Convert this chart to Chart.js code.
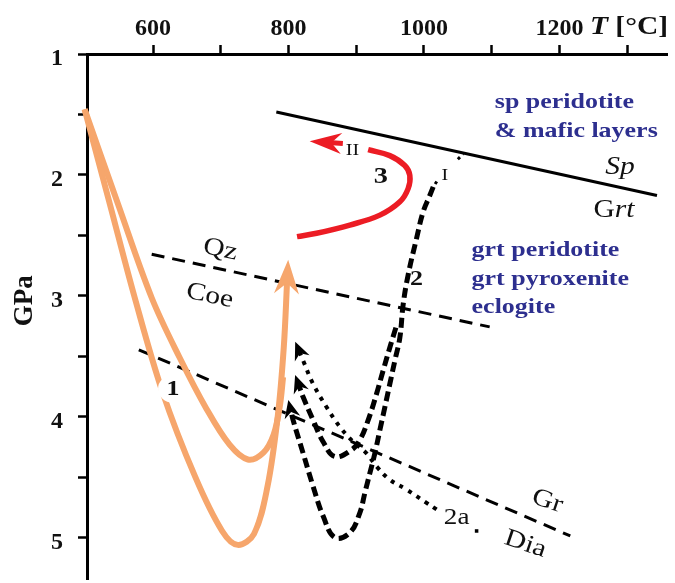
<!DOCTYPE html>
<html>
<head>
<meta charset="utf-8">
<script src="https://cdn.jsdelivr.net/npm/chart.js@4/dist/chart.umd.min.js"></script>
<style>
  html, body { margin: 0; padding: 0; background: #fff; overflow: hidden; }
  #wrap { width: 675px; height: 583px; position: relative; }
</style>
</head>
<body>
<div id="wrap"><canvas id="c"></canvas></div>
<script>
// ---------------- DATA (T in °C, P in GPa) ----------------
const xTicks = [600, 700, 800, 900, 1000, 1100, 1200, 1300];
const xTickLabels = ['600', '', '800', '', '1000', '', '1200', ''];
const yTicks = [1, 1.5, 2, 2.5, 3, 3.5, 4, 4.5, 5];
const yTickLabels = ['1', '', '2', '', '3', '', '4', '', '5'];

// phase boundaries
const spGrtT = [782, 1344];
const spGrtP = [1.48, 2.17];
const qzCoeT = [598, 1097];
const qzCoeP = [2.655, 3.256];
const grDiaT = [579, 1216];
const grDiaP = [3.445, 4.984];

// path 1 (orange)
const path1OuterT = [499, 536, 573, 614, 662, 702, 725, 749, 769, 784, 793, 798];
const path1OuterP = [1.457, 2.236, 3.015, 3.795, 4.492, 4.943, 5.058, 4.968, 4.575, 4.001, 3.426, 2.87];
const path1InnerT = [499, 548, 598, 639, 679, 713, 740, 763, 778, 787, 792];
const path1InnerP = [1.457, 2.236, 3.015, 3.507, 3.934, 4.230, 4.352, 4.295, 4.147, 3.918, 3.672];

// path 3 (red)
const path3T = [812.6, 841.4, 890.5, 934.9, 964.4, 976.6, 979.1, 971.7, 949.6, 917.6];
const path3P = [2.510, 2.482, 2.414, 2.332, 2.222, 2.113, 2.004, 1.922, 1.840, 1.791];
const path3ArrowT = [880.2, 859.5];
const path3ArrowP = [1.740, 1.732];

// path 2 (black dashed)
const path2T = [1013.6, 1008.7, 998.8, 989.1, 976.7, 969.3, 964.4, 957.0, 949.6, 942.3, 934.9, 927.5, 920.1, 912.7, 905.3, 890.6, 868.4, 851.1, 836.3, 821.6, 806.8, 803.4];
const path2P = [2.099, 2.168, 2.304, 2.523, 2.824, 3.070, 3.344, 3.535, 3.727, 3.918, 4.109, 4.301, 4.465, 4.629, 4.793, 4.957, 4.998, 4.820, 4.574, 4.301, 4.027, 3.947];
const path2InnerT = [958.5, 949.6, 939.7, 930.0, 917.6, 905.3, 893.0, 868.4, 851.1, 836.3, 821.6, 815.2];
const path2InnerP = [3.262, 3.426, 3.617, 3.809, 4.027, 4.191, 4.273, 4.328, 4.205, 4.027, 3.836, 3.737];
const path2TopT = [1016.5, 1021, 1035, 1050, 1058];
const path2TopP = [2.075, 2.035, null, 1.870, 1.826];

// path 2a (black dotted)
const path2aT = [1018.6, 1003.8, 974.3, 949.6, 930.0, 915.2, 895.4, 875.8, 856.1, 836.3, 821.6, 816.1];
const path2aP = [4.765, 4.711, 4.601, 4.519, 4.410, 4.301, 4.205, 4.082, 3.918, 3.727, 3.535, 3.462];
const path2aEndT = [1077.7];
const path2aEndP = [4.943];

// axis title anchors (data units)
const axisTitleT = 1245;
const gpaTitleP = 3.04;

// ---------------- STYLE ----------------
const ORANGE = '#F6A66C';
const RED = '#EC1C24';
const BLUE = '#2D2F8F';
const SERIF = "'Liberation Serif', 'Times New Roman', serif";
const HSCALE = 1.18;

function pts(T, P) { return T.map((t, i) => ({ x: t, y: P[i] })); }

const labelItems = [
  { parts: [['sp peridotite', 'bold']], x: 1104.6, y: 1.402, size: 22, color: BLUE, align: 'left' },
  { parts: [['& mafic layers', 'bold']], x: 1104.6, y: 1.635, size: 22, color: BLUE, align: 'left' },
  { parts: [['grt peridotite', 'bold']], x: 1070.3, y: 2.619, size: 22, color: BLUE, align: 'left' },
  { parts: [['grt pyroxenite', 'bold']], x: 1070.3, y: 2.865, size: 22, color: BLUE, align: 'left' },
  { parts: [['eclogite', 'bold']], x: 1070.3, y: 3.098, size: 22, color: BLUE, align: 'left' },
  { parts: [['Sp', 'italic']], x: 1289.4, y: 1.935, size: 25 },
  { parts: [['G', 'normal'], ['rt', 'italic']], x: 1280.6, y: 2.291, size: 25 },
  { parts: [['Qz', 'normal']], x: 699.3, y: 2.618, size: 25, along: 'qz' },
  { parts: [['Coe', 'normal']], x: 683.7, y: 3.0, size: 25, along: 'qz' },
  { parts: [['Gr', 'normal']], x: 1182.3, y: 4.697, size: 25, along: 'gr' },
  { parts: [['Dia', 'normal']], x: 1149.5, y: 5.052, size: 25, along: 'gr' },
  { parts: [['1', 'bold']], x: 629.5, y: 3.768, size: 22, bg: true },
  { parts: [['2', 'bold']], x: 989.1, y: 2.865, size: 22 },
  { parts: [['2a', 'normal']], x: 1048.2, y: 4.834, size: 23 },
  { parts: [['3', 'bold']], x: 936.3, y: 2.017, size: 24 },
  { parts: [['II', 'normal']], x: 894.3, y: 1.801, size: 17 },
  { parts: [['I', 'normal']], x: 1030.9, y: 2.004, size: 17 }
];

function fontOf(style, size) {
  let s = '';
  if (style.includes('italic')) s += 'italic ';
  if (style.includes('bold')) s += 'bold ';
  return s + size + 'px ' + SERIF;
}

function drawParts(ctx, parts, px, py, size, color, align, angle, hscale) {
  ctx.save();
  ctx.translate(px, py);
  if (angle) ctx.rotate(angle);
  ctx.scale(hscale, 1);
  ctx.textBaseline = 'middle';
  ctx.textAlign = 'left';
  ctx.fillStyle = color;
  let total = 0;
  const widths = parts.map(p => { ctx.font = fontOf(p[1], size); const w = ctx.measureText(p[0]).width; total += w; return w; });
  let x = align === 'left' ? 0 : -total / 2;
  parts.forEach((p, i) => { ctx.font = fontOf(p[1], size); ctx.fillText(p[0], x, 0); x += widths[i]; });
  ctx.restore();
}

const overlay = {
  id: 'overlay',
  afterDatasetsDraw(chart) {
    const ctx = chart.ctx, xs = chart.scales.x, ys = chart.scales.y;
    // arrowheads at the end of marked series
    chart.data.datasets.forEach((ds, i) => {
      if (!ds.arrow) return;
      const el = chart.getDatasetMeta(i).data;
      const a = el[el.length - 2], b = el[el.length - 1];
      let dx = b.x - a.x, dy = b.y - a.y;
      const d = Math.hypot(dx, dy); dx /= d; dy /= d;
      const L = ds.arrow.len, W = ds.arrow.width;
      const tx = b.x + dx * L * 0.6, ty = b.y + dy * L * 0.6;
      const nx = -dy, ny = dx;
      const bx = tx - dx * L, by = ty - dy * L;
      const mx = tx - dx * L * 0.68, my = ty - dy * L * 0.68;
      ctx.save();
      ctx.fillStyle = ds.borderColor;
      ctx.beginPath();
      ctx.moveTo(tx, ty);
      ctx.lineTo(bx + nx * W / 2, by + ny * W / 2);
      ctx.lineTo(mx, my);
      ctx.lineTo(bx - nx * W / 2, by - ny * W / 2);
      ctx.closePath();
      ctx.fill();
      ctx.restore();
    });
    // text labels
    const ang = (T, P) => Math.atan2(ys.getPixelForValue(P[1]) - ys.getPixelForValue(P[0]),
                                      xs.getPixelForValue(T[1]) - xs.getPixelForValue(T[0]));
    const angles = { qz: ang(qzCoeT, qzCoeP), gr: ang(grDiaT, grDiaP) * 0.8 };
    labelItems.forEach(l => {
      const px = xs.getPixelForValue(l.x), py = ys.getPixelForValue(l.y);
      if (l.bg) {
        ctx.save();
        ctx.fillStyle = '#fff';
        ctx.beginPath();
        ctx.ellipse(px, py, 15, 14, 0, 0, Math.PI * 2);
        ctx.fill();
        ctx.restore();
      }
      drawParts(ctx, l.parts, px, py, l.size, l.color || '#111', l.align || 'center',
                l.along ? angles[l.along] : 0, HSCALE);
    });
  },
  afterDraw(chart) {
    const ctx = chart.ctx, xs = chart.scales.x, ys = chart.scales.y;
    // x axis title: T [°C]
    drawParts(ctx, [['T', 'italic bold'], [' [°C]', 'bold']],
              xs.getPixelForValue(axisTitleT), xs.top + 28, 25, '#111', 'left', 0, HSCALE);
    // y axis title: GPa
    drawParts(ctx, [['GPa', 'bold']], ys.left + 25, ys.getPixelForValue(gpaTitleP), 27, '#111', 'center', -Math.PI / 2, 1);
  }
};

const base = { showLine: true, pointRadius: 0, fill: false, clip: false, borderCapStyle: 'butt' };

const datasets = [
  Object.assign({}, base, { label: 'Path 1 (outer)', data: pts(path1OuterT, path1OuterP), borderColor: ORANGE, borderWidth: 6, tension: 0.35, arrow: { len: 34, width: 25 } }),
  Object.assign({}, base, { label: 'Path 1 (inner)', data: pts(path1InnerT, path1InnerP), borderColor: ORANGE, borderWidth: 6, tension: 0.35 }),
  Object.assign({}, base, { label: 'Path 3', data: pts(path3T, path3P), borderColor: RED, borderWidth: 5.5, tension: 0.4 }),
  Object.assign({}, base, { label: 'Path 3 arrow', data: pts(path3ArrowT, path3ArrowP), borderColor: RED, borderWidth: 5, tension: 0, arrow: { len: 32, width: 21 } }),
  Object.assign({}, base, { label: 'Path 2', data: pts(path2T, path2P), borderColor: '#000', borderWidth: 5, borderDash: [10, 5], tension: 0.4, arrow: { len: 18, width: 16 } }),
  Object.assign({}, base, { label: 'Path 2 (inner)', data: pts(path2InnerT, path2InnerP), borderColor: '#000', borderWidth: 5, borderDash: [10, 5], tension: 0.4, arrow: { len: 18, width: 16 } }),
  Object.assign({}, base, { label: 'Path 2 (top)', data: pts(path2TopT, path2TopP), borderColor: '#000', borderWidth: 3, borderDash: [3, 4], tension: 0, spanGaps: false }),
  Object.assign({}, base, { label: 'Path 2a', data: pts(path2aT, path2aP), borderColor: '#000', borderWidth: 4, borderDash: [4, 6], tension: 0.4, arrow: { len: 18, width: 16 } }),
  Object.assign({}, base, { label: 'Path 2a end', data: pts(path2aEndT, path2aEndP), showLine: false, pointRadius: 2.5, pointStyle: 'rect', backgroundColor: '#000', borderColor: '#000', borderWidth: 0 }),
  Object.assign({}, base, { label: 'Sp / Grt', data: pts(spGrtT, spGrtP), borderColor: '#000', borderWidth: 3, tension: 0 }),
  Object.assign({}, base, { label: 'Qz / Coe', data: pts(qzCoeT, qzCoeP), borderColor: '#000', borderWidth: 3, borderDash: [13, 8], tension: 0 }),
  Object.assign({}, base, { label: 'Gr / Dia', data: pts(grDiaT, grDiaP), borderColor: '#000', borderWidth: 3, borderDash: [13, 8], tension: 0 })
];

const tickFont = { family: SERIF, size: 24, weight: 'bold' };

function zeroPad(s) { s.paddingTop = 0; s.paddingBottom = 0; s.paddingLeft = 0; s.paddingRight = 0; }

new Chart(document.getElementById('c'), {
  type: 'scatter',
  data: { datasets },
  options: {
    responsive: true,
    maintainAspectRatio: false,
    animation: false,
    layout: { padding: { left: 0, right: 8, top: 0, bottom: 0 } },
    plugins: { legend: { display: false }, tooltip: { enabled: false }, title: { display: false } },
    scales: {
      x: {
        type: 'linear', position: 'top', min: 502.5, max: 1358.8,
        afterBuildTicks: s => { s.ticks = xTicks.map(v => ({ value: v })); },
        afterFit: s => { s.height = 54; zeroPad(s); },
        grid: { drawOnChartArea: false, drawTicks: true, tickLength: 9, tickWidth: 2.5, tickColor: '#000' },
        border: { display: true, color: '#000', width: 3 },
        ticks: { autoSkip: false, maxRotation: 0, minRotation: 0, padding: 2, color: '#111', font: tickFont,
                 callback: (v, i) => xTickLabels[i] }
      },
      y: {
        type: 'linear', position: 'left', reverse: true, min: 1, max: 5.34,
        afterBuildTicks: s => { s.ticks = yTicks.map(v => ({ value: v })); },
        afterFit: s => { s.width = 87; zeroPad(s); },
        grid: { drawOnChartArea: false, drawTicks: true, tickLength: 9, tickWidth: 2.5, tickColor: '#000' },
        border: { display: true, color: '#000', width: 3 },
        ticks: { autoSkip: false, padding: 15, labelOffset: 5, color: '#111', font: tickFont,
                 callback: (v, i) => yTickLabels[i] }
      }
    }
  },
  plugins: [overlay]
});
</script>
</body>
</html>
